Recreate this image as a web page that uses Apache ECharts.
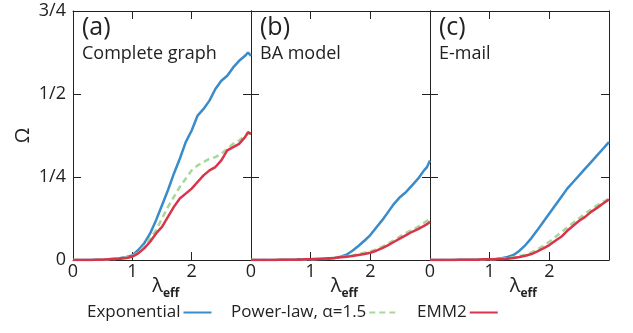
<!DOCTYPE html>
<html><head><meta charset="utf-8">
<script src="https://cdn.jsdelivr.net/npm/echarts@6/dist/echarts.min.js"></script>
<style>html,body{margin:0;padding:0;background:#fff}#c{width:633px;height:333px}</style>
</head><body><div id="c"></div>
<script>
const lambda = [0,0.1,0.2,0.3,0.4,0.5,0.6,0.7,0.8,0.9,1.0,1.1,1.2,1.3,1.4,1.5,1.6,1.7,1.8,1.9,2.0,2.1,2.2,2.3,2.4,2.5,2.6,2.7,2.8,2.9,2.95,3.0];
// panel (a) Complete graph
const expA = [0,0,0,0,0.001,0.001,0.002,0.004,0.006,0.009,0.014,0.03,0.05,0.08,0.12,0.165,0.21,0.26,0.305,0.355,0.39,0.435,0.455,0.48,0.515,0.54,0.555,0.58,0.6,0.615,0.625,0.615];
const powA = [0,0,0,0,0.001,0.001,0.002,0.003,0.005,0.008,0.012,0.022,0.04,0.065,0.09,0.125,0.16,0.19,0.22,0.245,0.27,0.285,0.295,0.305,0.31,0.32,0.335,0.35,0.36,0.375,0.38,0.38];
const emmA = [0,0,0,0,0.001,0.001,0.002,0.003,0.004,0.006,0.01,0.02,0.035,0.055,0.08,0.1,0.13,0.16,0.185,0.2,0.215,0.235,0.255,0.27,0.28,0.3,0.33,0.34,0.35,0.37,0.385,0.38];
// panel (b) BA model
const expB = [0,0,0,0,0,0.001,0.001,0.001,0.002,0.002,0.002,0.003,0.003,0.004,0.006,0.01,0.016,0.028,0.042,0.058,0.075,0.098,0.12,0.145,0.17,0.19,0.205,0.225,0.245,0.27,0.28,0.3];
const powB = [0,0,0,0,0,0.001,0.001,0.001,0.001,0.002,0.002,0.003,0.004,0.005,0.007,0.009,0.011,0.014,0.018,0.022,0.026,0.032,0.04,0.05,0.06,0.071,0.082,0.091,0.1,0.112,0.118,0.125];
const emmB = [0,0,0,0,0,0.001,0.001,0.001,0.001,0.002,0.002,0.003,0.004,0.005,0.006,0.008,0.01,0.012,0.015,0.018,0.022,0.028,0.036,0.045,0.055,0.065,0.075,0.085,0.093,0.103,0.108,0.115];
// panel (c) E-mail
const expC = [0,0,0,0,0,0.001,0.001,0.001,0.001,0.002,0.002,0.003,0.005,0.009,0.015,0.028,0.045,0.066,0.09,0.115,0.14,0.165,0.19,0.215,0.235,0.255,0.275,0.295,0.315,0.335,0.345,0.355];
const powC = [0,0,0,0,0,0.001,0.001,0.001,0.001,0.002,0.002,0.003,0.004,0.006,0.008,0.012,0.016,0.023,0.032,0.043,0.055,0.069,0.083,0.098,0.112,0.126,0.14,0.152,0.165,0.175,0.18,0.185];
const emmC = [0,0,0,0,0,0.001,0.001,0.001,0.001,0.002,0.002,0.002,0.003,0.004,0.006,0.009,0.013,0.018,0.026,0.035,0.045,0.058,0.07,0.088,0.103,0.118,0.13,0.145,0.157,0.17,0.176,0.182];
const panelLabels = ['(a)','(b)','(c)'];
const panelNames = ['Complete graph','BA model','E-mail'];
const xTickLabels = {0:'0',1:'1',2:'2',3:''};
const yTickLabels = {0:'0',0.25:'1/4',0.5:'1/2',0.75:'3/4'};
const seriesNames = ['Exponential','Power-law, α=1.5','EMM2'];
const xName = ['λ','eff'];
const yName = 'Ω';

const FONT = 'Open Sans';
const colors = ['#3a8bc9','#a6d89a','#d9344a'];
const panels = [[expA,powA,emmA],[expB,powB,emmB],[expC,powC,emmC]];
const grids = [
  {left:73, top:11, width:178, height:249},
  {left:251, top:11, width:179, height:249},
  {left:430, top:11, width:179, height:249}
];
const xAxis=[], yAxis=[], series=[], graphic=[];
panels.forEach((p,i)=>{
  xAxis.push({gridIndex:i,type:'value',min:0,max:3,interval:1,
    axisLine:{show:true,onZero:false,lineStyle:{color:'#222',width:1}},
    axisTick:{show:true,inside:true,length:8,lineStyle:{color:'#222'}},
    axisLabel:{fontFamily:FONT,fontSize:18,color:'#222',margin:3,formatter:v=>xTickLabels[v]},
    splitLine:{show:false}
  });
  xAxis.push({gridIndex:i,type:'value',min:0,max:3,interval:1,position:'top',
    axisLine:{show:true,onZero:false,lineStyle:{color:'#222',width:1}},
    axisTick:{show:true,inside:true,length:8,lineStyle:{color:'#222'}},
    axisLabel:{show:false},splitLine:{show:false}});
  yAxis.push({gridIndex:i,type:'value',min:0,max:0.75,interval:0.25,
    axisLine:{show:true,onZero:false,lineStyle:{color:'#222',width:1}},
    axisTick:{show:true,inside:true,length:8,lineStyle:{color:'#222'}},
    axisLabel:{show:i===0,fontFamily:FONT,fontSize:18,color:'#222',margin:7,formatter:v=>yTickLabels[v]},
    splitLine:{show:false},
    name:i===0?yName:'',nameLocation:'middle',nameGap:40,
    nameTextStyle:{fontFamily:FONT,fontSize:20,color:'#222'}
  });
  yAxis.push({gridIndex:i,type:'value',min:0,max:0.75,interval:0.25,position:'right',
    axisLine:{show:true,onZero:false,lineStyle:{color:'#222',width:1}},
    axisTick:{show:true,inside:true,length:8,lineStyle:{color:'#222'}},
    axisLabel:{show:false},splitLine:{show:false}});
  p.forEach((vals,k)=>{
    series.push({type:'line',name:seriesNames[k],xAxisIndex:2*i,yAxisIndex:2*i,
      data:lambda.map((x,j)=>[x,vals[j]]),showSymbol:false,symbol:'none',z:k===1?3:(k===2?4:2),
      lineStyle:{color:colors[k],width:2.5,type:k===1?[6,4]:'solid'},
      itemStyle:{color:colors[k]},animation:false});
  });
  const cx = grids[i].left + grids[i].width/2 + 1;
  graphic.push({type:'text',x:cx,y:286,style:{text:xName[0],font:'20px "'+FONT+'"',fill:'#222',align:'right',verticalAlign:'middle'}});
  graphic.push({type:'text',x:cx,y:294,style:{text:xName[1],font:'bold 12px "'+FONT+'"',fill:'#222',align:'left',verticalAlign:'middle'}});
  graphic.push({type:'text',left:grids[i].left+9,top:15,style:{text:panelLabels[i],font:'25px "'+FONT+'"',fill:'#222'}});
  graphic.push({type:'text',left:grids[i].left+9,top:45,style:{text:panelNames[i],font:'18px "'+FONT+'"',fill:'#222'}});
});
const legendBase = {orient:'horizontal',align:'right',top:299,itemWidth:28,itemHeight:14,
  itemStyle:{opacity:0},
  textStyle:{fontFamily:FONT,fontSize:17,color:'#222',padding:[0,-2,0,0]},selectedMode:false};
const option = {
  animation:false,
  grid:grids,
  xAxis, yAxis, series, graphic,
  legend:[
    Object.assign({},legendBase,{left:82,data:[seriesNames[0]]}),
    Object.assign({},legendBase,{left:226,data:[seriesNames[1]]}),
    Object.assign({},legendBase,{left:412,data:[seriesNames[2]]})
  ]
};
const chart = echarts.init(document.getElementById('c'),null,{renderer:'canvas'});
chart.setOption(option);
</script></body></html>
